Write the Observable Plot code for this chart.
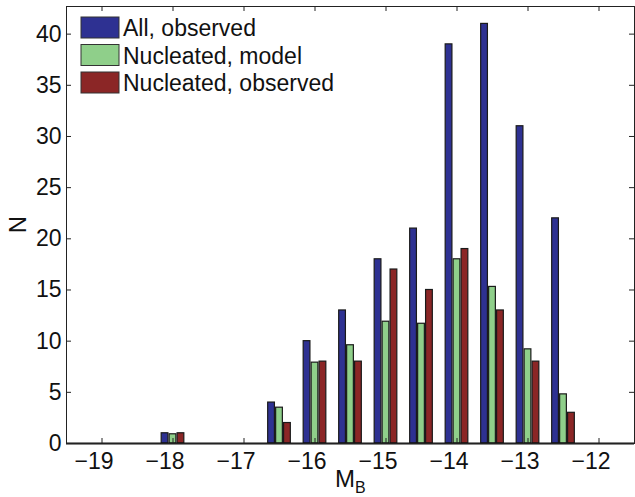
<!DOCTYPE html>
<html><head><meta charset="utf-8">
<script src="https://cdn.jsdelivr.net/npm/d3@7"></script>
<script src="https://cdn.jsdelivr.net/npm/@observablehq/plot@0.6"></script>
<style>
body{margin:0;background:#fff}
#chart{width:635px;height:497px;font-family:"Liberation Sans",Arial,Helvetica,sans-serif}
</style>
</head><body><div id="chart"></div>
<script>
// ---- data ----
const binCenters = [-18, -16.5, -16, -15.5, -15, -14.5, -14, -13.5, -13, -12.5];
const allObserved = [1, 4, 10, 13, 18, 21, 39, 41, 31, 22];
const nucleatedModel = [0.9, 3.5, 7.9, 9.6, 11.9, 11.7, 18, 15.3, 9.2, 4.8];
const nucleatedObserved = [1, 2, 8, 8, 17, 15, 19, 13, 8, 3];
const seriesNames = ["All, observed", "Nucleated, model", "Nucleated, observed"];
const seriesColors = ["#2e3192", "#8fcf8a", "#8b2626"];
const xTicks = [-19, -18, -17, -16, -15, -14, -13, -12];
const yTicks = [0, 5, 10, 15, 20, 25, 30, 35, 40];

// ---- layout ----
const W = 635, H = 497;
const mL = 66, mR = 1, mT = 6, mB = 54;
const plotW = W - mL - mR, plotH = H - mT - mB;
const barOffset = 0.112, barWidth = 0.095, tickLen = 5;

const seriesValues = [allObserved, nucleatedModel, nucleatedObserved];
const data = [];
seriesValues.forEach((vals, k) => {
  vals.forEach((v, j) => data.push({x: binCenters[j], n: v, series: seriesNames[k], k}));
});

const chart = Plot.plot({
  width: W, height: H,
  marginLeft: mL, marginRight: mR, marginTop: mT, marginBottom: mB,
  style: {fontFamily: '"Liberation Sans",Arial,Helvetica,sans-serif', fontSize: "23px", color: "#111"},
  x: {domain: [-19.5, -11.5]},
  y: {domain: [0, 42.7]},
  color: {domain: seriesNames, range: seriesColors},
  marks: [
    Plot.rect(data, {
      x1: d => d.x + (d.k - 1) * barOffset - barWidth / 2,
      x2: d => d.x + (d.k - 1) * barOffset + barWidth / 2,
      y1: () => 0, y2: "n",
      fill: "series", stroke: "#1a1a1a", strokeWidth: 1.2
    }),
    Plot.ruleY([0], {stroke: "#111", strokeWidth: 2}),
    Plot.frame({stroke: "#222", strokeWidth: 1}),
    Plot.ruleX(xTicks, {x: d => d, insetTop: plotH - tickLen, stroke: "#222"}),
    Plot.ruleX(xTicks, {x: d => d, insetBottom: plotH - tickLen, stroke: "#222"}),
    Plot.ruleY(yTicks, {y: d => d, insetRight: plotW - tickLen, stroke: "#222"}),
    Plot.ruleY(yTicks, {y: d => d, insetLeft: plotW - tickLen, stroke: "#222"}),
    Plot.axisX({ticks: xTicks, tickSize: 0, tickPadding: 9, label: null, fontSize: 23, dx: -8}),
    Plot.axisY({ticks: yTicks, tickSize: 0, tickPadding: 5, label: null, fontSize: 23})
  ]
});
document.getElementById("chart").appendChild(chart);

// ---- labels & legend ----
const svg = d3.select(chart);
svg.append("text")
  .attr("transform", `translate(26,${mT + plotH / 2}) rotate(-90)`)
  .attr("text-anchor", "middle").attr("font-size", 24).attr("fill", "#111")
  .text("N");
const xl = svg.append("text").attr("x", 335).attr("y", 487).attr("text-anchor", "start")
  .attr("font-size", 24).attr("fill", "#111");
xl.append("tspan").text("M");
xl.append("tspan").attr("font-size", 16).attr("dy", 6).text("B");

const lg = svg.append("g").attr("text-anchor", "start");
seriesNames.forEach((name, k) => {
  const y0 = 17 + k * 27.5;
  lg.append("rect").attr("x", 81).attr("y", y0).attr("width", 38).attr("height", 21)
    .attr("fill", seriesColors[k]).attr("stroke", "#333").attr("stroke-width", 1);
  lg.append("text").attr("x", 123).attr("y", y0 + 19).attr("text-anchor", "start")
    .attr("font-size", 23).attr("fill", "#111").text(name);
});
</script>
</body></html>
